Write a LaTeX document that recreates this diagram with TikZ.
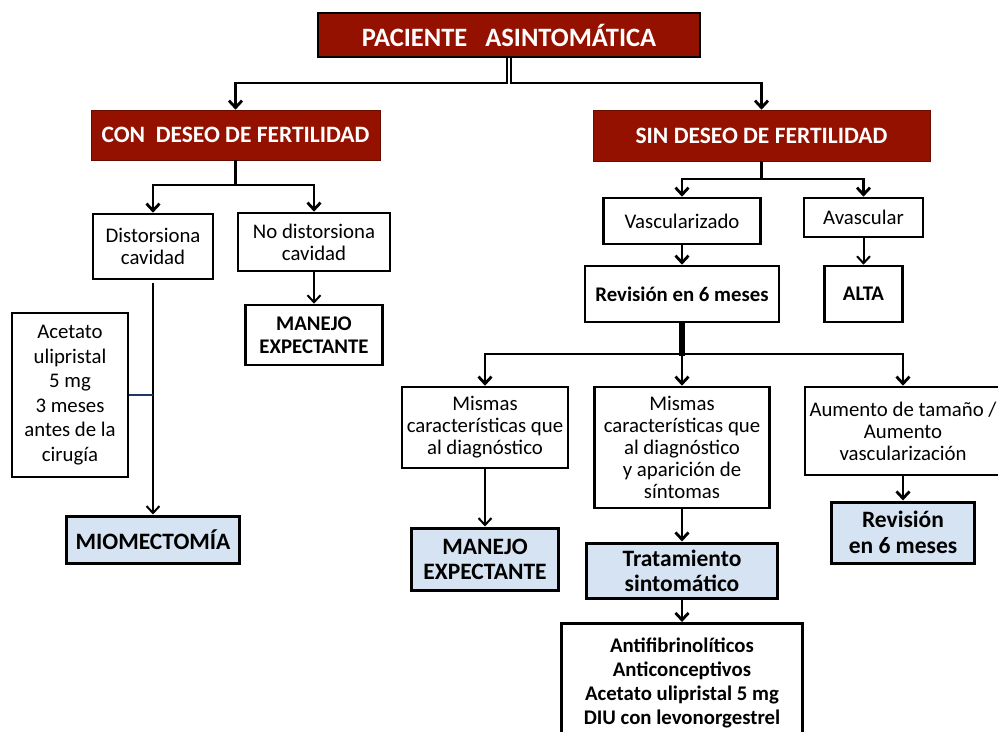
\documentclass[tikz,border=0pt]{standalone}
\usepackage{fontspec}
\setmainfont{Carlito}
\usepackage{tikz}
\usetikzlibrary{positioning,arrows.meta}
\definecolor{hdred}{RGB}{148,17,0}
\definecolor{lightblu}{RGB}{214,227,242}
\definecolor{linknavy}{RGB}{31,56,100}
\tikzset{
  hdbox/.style    = {fill=hdred, draw=hdred!70!black, line width=0.6pt, text=white, align=center, font=\bfseries\fontsize{23.5}{27}\selectfont},
  nbox/.style     = {draw, line width=2.6pt, fill=white, align=center, inner sep=2pt, font=\fontsize{20.8}{22}\selectfont},
  boldbox/.style  = {nbox, font=\bfseries\fontsize{20.8}{23}\selectfont},
  bluebox/.style  = {nbox, fill=lightblu, line width=3pt, font=\bfseries\fontsize{23.5}{25}\selectfont},
  flow/.style     = {-{Straight Barb[length=7pt,width=13pt]}, line width=2.8pt},
  tflow/.style    = {flow, line width=2pt},
}

\begin{document}
\begin{tikzpicture}[x=1pt,y=-1pt]
  \useasboundingbox (0,0) rectangle (998,731);
  \clip (0,0) rectangle (998,731);

  % top level
  \node[hdbox, draw=black, line width=2.6pt, minimum width=382, minimum height=44, font=\bfseries\fontsize{26.5}{30}\selectfont] (top) at (509,35) {PACIENTE\ \ \ ASINTOM\'ATICA};
  \node[hdbox, minimum width=289, minimum height=50] (con) at (235.5,135) {CON\ \ DESEO DE FERTILIDAD};
  \node[hdbox, minimum width=337, minimum height=51] (sin) at (761.5,135.5) {SIN DESEO DE FERTILIDAD};

  % con deseo
  \node[nbox, minimum width=120, minimum height=65] (dist) at (153,246.5) {Distorsiona\\cavidad};
  \node[nbox, minimum width=152, minimum height=58] (nodist) at (314,242) {No distorsiona\\cavidad};
  \node[boldbox, minimum width=137, minimum height=60] (manejoA) at (314,335) {MANEJO\\EXPECTANTE};
  \node[nbox, minimum width=116, minimum height=164, font=\fontsize{20.8}{24.5}\selectfont] (acet) at (70,395) {Acetato\\ulipristal\\5 mg\\3 meses\\antes de la\\cirug\'ia};
  \node[bluebox, minimum width=173, minimum height=47] (miom) at (153,539.5) {MIOMECTOM\'IA};

  % sin deseo
  \node[nbox, minimum width=157, minimum height=46] (vasc) at (682,221) {Vascularizado};
  \node[nbox, minimum width=119, minimum height=39] (avasc) at (863.5,217.5) {Avascular};
  \node[boldbox, minimum width=194, minimum height=56] (revA) at (682,294) {Revisi\'on en 6 meses};
  \node[boldbox, minimum width=78, minimum height=56] (alta) at (863.5,294) {ALTA};
  \node[nbox, minimum width=166, minimum height=81] (misA) at (485,427.5) {Mismas\\caracter\'isticas que\\al diagn\'ostico};
  \node[nbox, minimum width=175, minimum height=121] (misB) at (682,447.5) {Mismas\\caracter\'isticas que\\al diagn\'ostico\\y aparici\'on de\\s\'intomas};
  \node[nbox, minimum width=196, minimum height=88] (aum) at (903,431) {Aumento de tama\~no /\\Aumento\\vascularizaci\'on};
  \node[bluebox, minimum width=147, minimum height=62] (manejoB) at (485,559) {MANEJO\\EXPECTANTE};
  \node[bluebox, minimum width=191, minimum height=55] (trat) at (682,570.5) {Tratamiento\\sintom\'atico};
  \node[bluebox, minimum width=143, minimum height=61, font=\bfseries\fontsize{23.5}{26}\selectfont] (revB) at (903,532.5) {Revisi\'on\\en 6 meses};
  \node[boldbox, anchor=north, minimum width=241, inner ysep=15pt, font=\bfseries\fontsize{20.8}{24}\selectfont] (farm) at (682,622) {Antifibrinol\'iticos\\Anticonceptivos\\Acetato ulipristal 5 mg\\DIU con levonorgestrel};

  % connectors
  \coordinate (j0) at (509,83);
  \draw[flow] ([xshift=-2pt]top.south) -- ([xshift=-2pt]j0) -| (con.north);
  \draw[flow] ([xshift=2pt]top.south) -- ([xshift=2pt]j0) -| (sin.north);

  \coordinate (j1) at (235.5,185);
  \draw[flow] (con.south) -- (j1) -| (dist.north);
  \draw[flow] (j1) -| (nodist.north);
  \draw[tflow] (nodist.south) -- (manejoA.north);
  \draw[tflow] ([yshift=-3pt]dist.south) -- (miom.north);
  \draw[linknavy, line width=1.4pt] (acet.east) -- (acet.east -| dist.south);

  \coordinate (j2) at (761.5,179);
  \draw[flow] (sin.south) -- (j2) -| (vasc.north);
  \draw[flow] (j2) -| (avasc.north);
  \draw[flow] (vasc.south) -- (revA.north);
  \draw[tflow] (avasc.south) -- (alta.north);

  \coordinate (j3) at (682,354);
  \draw[line width=6pt] (revA.south) -- ([yshift=-1.5pt]j3);
  \draw[flow] (j3) -| (misA.north);
  \draw[flow] (j3) -- (misB.north);
  \draw[flow] (j3) -| (aum.north);
  \draw[tflow] (misA.south) -- (manejoB.north);
  \draw[flow] (misB.south) -- (trat.north);
  \draw[flow] (aum.south) -- (revB.north);
  \draw[flow] (trat.south) -- (farm.north);
\end{tikzpicture}
\end{document}
